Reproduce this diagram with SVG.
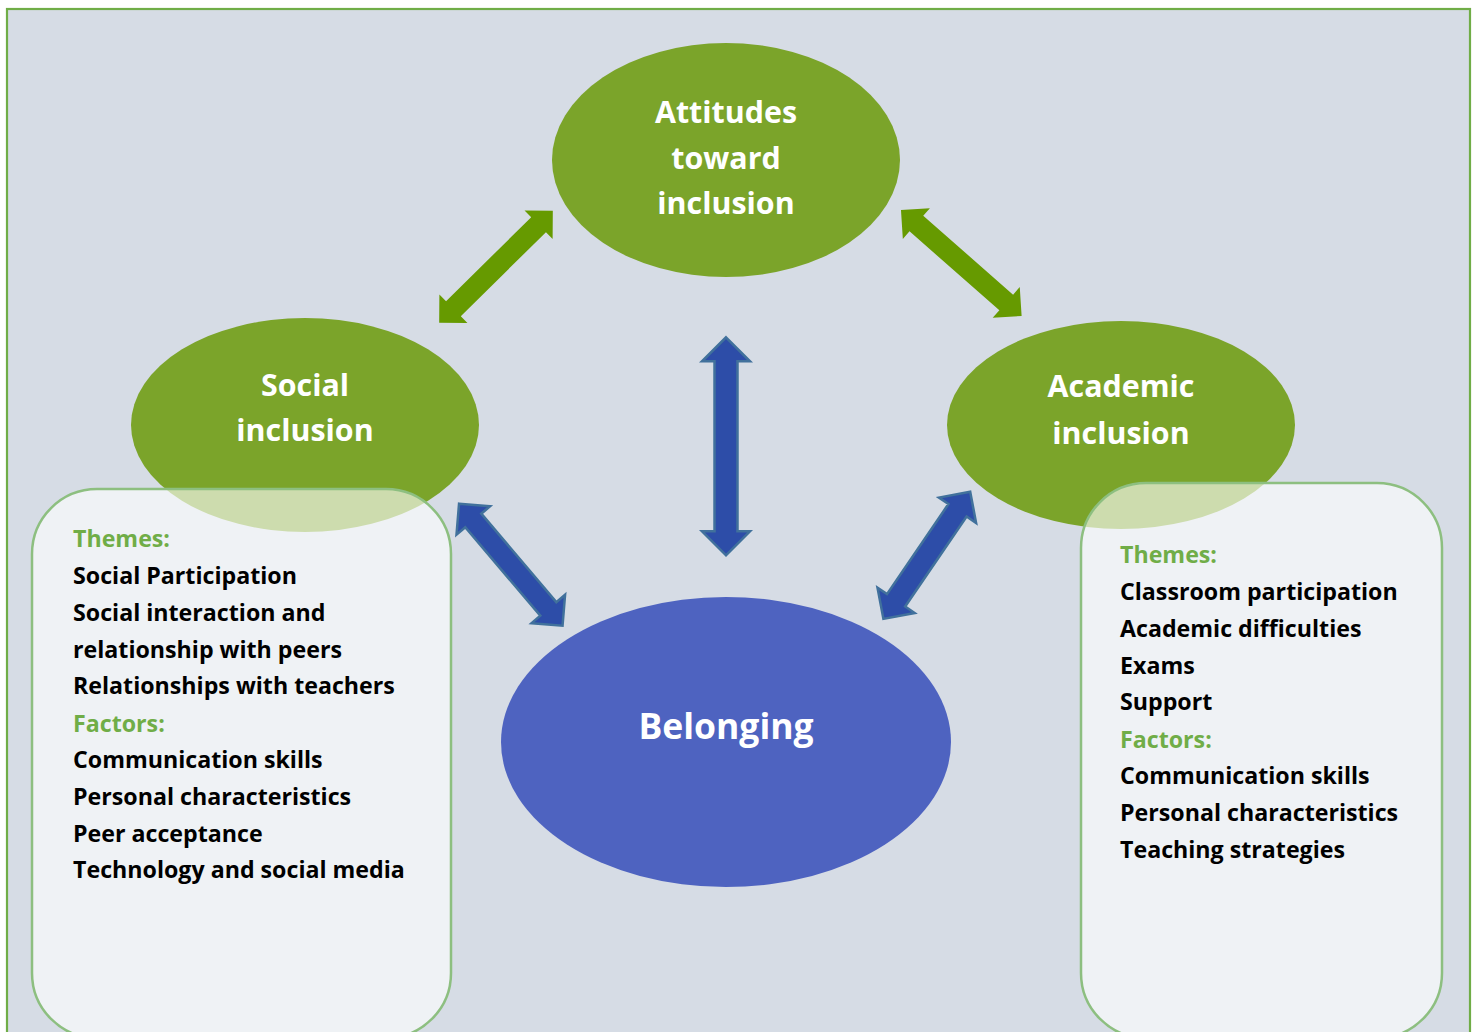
<svg xmlns="http://www.w3.org/2000/svg" width="1478" height="1032" viewBox="0 0 1478 1032">
<style>
.ell{fill:#7ba42a}
.lbl{font-family:"Open Sans",Lato,"Liberation Sans",sans-serif;font-weight:700;fill:#ffffff;text-anchor:middle}
.box{fill:#ffffff;fill-opacity:0.62;stroke:#8dbf80;stroke-width:2.5}
.bt{font-family:"Open Sans",Lato,"Liberation Sans",sans-serif;font-weight:700;font-size:23.2px;fill:#000000}
.hd{fill:#70ad47}
.ga{fill:#669a00}
.ba{fill:#2d4da8;stroke:#41719c;stroke-width:2.5;stroke-linejoin:miter}
</style>
<rect x="7" y="9" width="1463" height="1040" fill="#d6dce5" stroke="#70ad47" stroke-width="2.2"/>
<g id="attitudes">
<ellipse class="ell" cx="726" cy="160" rx="174" ry="117"/>
<text class="lbl" font-size="30.4" x="726" y="123">Attitudes</text>
<text class="lbl" font-size="30.4" x="726" y="169">toward</text>
<text class="lbl" font-size="30.4" x="726" y="214">inclusion</text>
</g>
<g id="social">
<ellipse class="ell" cx="305" cy="425" rx="174" ry="107"/>
<text class="lbl" font-size="30.4" x="305" y="396">Social</text>
<text class="lbl" font-size="30.4" x="305" y="441">inclusion</text>
</g>
<g id="academic">
<ellipse class="ell" cx="1121" cy="425" rx="174" ry="104"/>
<text class="lbl" font-size="30.4" x="1121" y="397">Academic</text>
<text class="lbl" font-size="30.4" x="1121" y="444">inclusion</text>
</g>
<g id="social-box">
<rect class="box" x="32" y="489" width="419" height="549" rx="65" ry="65"/>
<text class="bt hd" x="73" y="547">Themes:</text>
<text class="bt" x="73" y="584">Social Participation</text>
<text class="bt" x="73" y="621">Social interaction and</text>
<text class="bt" x="73" y="658">relationship with peers</text>
<text class="bt" x="73" y="694">Relationships with teachers</text>
<text class="bt hd" x="73" y="732">Factors:</text>
<text class="bt" x="73" y="768">Communication skills</text>
<text class="bt" x="73" y="805">Personal characteristics</text>
<text class="bt" x="73" y="842">Peer acceptance</text>
<text class="bt" x="73" y="878">Technology and social media</text>
</g>
<g id="academic-box">
<rect class="box" x="1081" y="483" width="361" height="555" rx="65" ry="65"/>
<text class="bt hd" x="1120" y="563">Themes:</text>
<text class="bt" x="1120" y="600">Classroom participation</text>
<text class="bt" x="1120" y="637">Academic difficulties</text>
<text class="bt" x="1120" y="674">Exams</text>
<text class="bt" x="1120" y="710">Support</text>
<text class="bt hd" x="1120" y="748">Factors:</text>
<text class="bt" x="1120" y="784">Communication skills</text>
<text class="bt" x="1120" y="821">Personal characteristics</text>
<text class="bt" x="1120" y="858">Teaching strategies</text>
</g>
<g id="connectors">
<polygon class="ga" transform="translate(496,266.7) rotate(-44.6)" points="-79.8,0 -59.8,-20 -59.8,-10.5 59.8,-10.5 59.8,-20 79.8,0 59.8,20 59.8,10.5 -59.8,10.5 -59.8,20"/>
<polygon class="ga" transform="translate(961.3,263) rotate(41.3)" points="-80.3,0 -59.8,-20.5 -59.8,-10.4 59.8,-10.4 59.8,-20.5 80.3,0 59.8,20.5 59.8,10.4 -59.8,10.4 -59.8,20.5"/>
<polygon class="ba" transform="translate(726,446.3) rotate(90)" points="-109,0 -85,-24 -85,-11.5 85,-11.5 85,-24 109,0 85,24 85,11.5 -85,11.5 -85,24"/>
<polygon class="ba" transform="translate(510.8,564.7) rotate(49.7)" points="-80,0 -58,-22 -58,-10.5 58,-10.5 58,-22 80,0 58,22 58,10.5 -58,10.5 -58,22"/>
<polygon class="ba" transform="translate(926.8,555.3) rotate(124.3)" points="-77,0 -54.5,-22.5 -54.5,-11 54.5,-11 54.5,-22.5 77,0 54.5,22.5 54.5,11 -54.5,11 -54.5,22.5"/>
</g>
<g id="belonging">
<ellipse cx="726" cy="742" rx="225" ry="145" fill="#4e63c0"/>
<text class="lbl" font-size="35.5" x="726" y="739">Belonging</text>
</g>
</svg>
